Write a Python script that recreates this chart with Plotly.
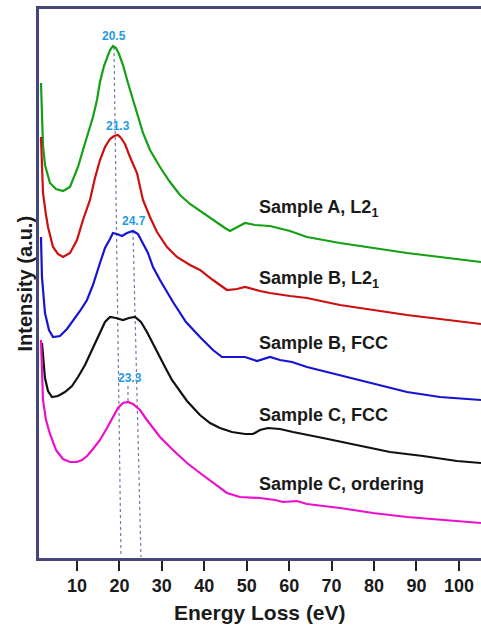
import plotly.graph_objects as go

# ---- data (energy loss in eV, intensity in a.u. with vertical offsets) ----
a_x = [1.52, 1.75, 1.99, 2.46, 3.64, 5.05, 6.70, 8.35, 9.06, 10.24, 11.41, 12.59, 13.77, 14.71, 15.42,
       16.36, 17.07, 17.78, 18.48, 19.19, 19.90, 20.84, 22.02, 23.20, 24.37, 25.55, 27.20, 29.56, 31.91,
       34.27, 36.63, 38.98, 42.52, 44.87, 46.05, 47.70, 49.59, 51.94, 55.48, 60.19, 64.19, 71.97, 79.74,
       87.76, 95.53, 105.2]
a_y = [4.74, 4.37, 4.12, 3.92, 3.74, 3.68, 3.66, 3.70, 3.77, 3.90, 4.07, 4.24, 4.40, 4.57, 4.75,
       4.91, 5.00, 5.07, 5.11, 5.09, 5.03, 4.92, 4.74, 4.57, 4.40, 4.24, 4.07, 3.90, 3.75,
       3.62, 3.53, 3.46, 3.36, 3.29, 3.26, 3.30, 3.34, 3.32, 3.31, 3.26, 3.20, 3.14, 3.09,
       3.04, 3.00, 2.95]

b1_x = [1.52, 1.75, 1.99, 2.70, 3.17, 4.35, 5.52, 6.70, 8.35, 10.00, 11.41, 13.06, 14.24, 15.42, 16.60,
        17.78, 18.72, 19.66, 20.37, 21.31, 22.49, 24.14, 25.55, 27.20, 28.85, 31.21, 33.56, 36.63, 38.98,
        42.04, 45.34, 47.70, 49.59, 53.12, 55.48, 60.19, 64.19, 71.97, 79.74, 87.76, 95.53, 105.2]
b1_y = [4.20, 3.92, 3.64, 3.42, 3.30, 3.10, 3.03, 3.00, 3.04, 3.17, 3.37, 3.57, 3.79, 3.97, 4.10,
        4.18, 4.21, 4.22, 4.19, 4.13, 4.00, 3.84, 3.57, 3.40, 3.25, 3.10, 3.00, 2.92, 2.87,
        2.77, 2.67, 2.68, 2.70, 2.66, 2.64, 2.61, 2.59, 2.52, 2.47, 2.42, 2.38, 2.33]

b2_x = [1.52, 1.75, 2.46, 3.40, 4.35, 5.99, 7.64, 9.53, 10.71, 12.36, 13.77, 15.42, 16.60, 17.78, 18.48,
        19.43, 20.60, 21.78, 23.20, 24.37, 25.55, 26.73, 27.91, 29.56, 32.62, 35.68, 38.98, 42.04, 44.17,
        47.23, 49.59, 52.41, 55.48, 57.83, 60.66, 64.19, 71.97, 79.74, 87.76, 95.53, 105.2]
b2_y = [3.20, 2.80, 2.44, 2.27, 2.20, 2.21, 2.28, 2.39, 2.46, 2.57, 2.72, 2.94, 3.09, 3.18, 3.24,
        3.23, 3.21, 3.24, 3.26, 3.23, 3.14, 3.04, 2.90, 2.77, 2.55, 2.35, 2.20, 2.07, 2.00,
        2.00, 2.00, 1.96, 2.00, 1.97, 1.95, 1.90, 1.82, 1.74, 1.65, 1.60, 1.57]

c1_x = [1.75, 1.99, 2.46, 3.17, 4.11, 5.52, 7.17, 8.82, 10.24, 11.89, 13.53, 15.42, 16.60, 17.78, 19.19,
        20.84, 22.25, 23.67, 25.08, 26.49, 27.67, 28.85, 30.74, 32.38, 34.27, 35.92, 38.98, 41.34, 43.69,
        46.52, 49.59, 51.47, 53.12, 55.00, 57.83, 60.90, 67.96, 75.97, 83.75, 91.53, 99.54, 105.2]
c1_y = [2.14, 2.02, 1.79, 1.66, 1.60, 1.61, 1.65, 1.71, 1.80, 1.92, 2.07, 2.24, 2.35, 2.40, 2.39,
        2.37, 2.39, 2.40, 2.35, 2.25, 2.15, 2.05, 1.90, 1.77, 1.66, 1.56, 1.42, 1.34, 1.29,
        1.25, 1.23, 1.23, 1.27, 1.29, 1.28, 1.25, 1.19, 1.12, 1.05, 1.01, 0.96, 0.94]

c2_x = [1.52, 1.75, 1.99, 2.70, 3.64, 5.05, 6.70, 8.35, 10.00, 11.18, 12.36, 13.77, 15.42, 17.07, 18.48,
        19.66, 20.84, 22.02, 23.20, 24.84, 26.49, 27.91, 29.56, 32.62, 35.92, 38.98, 42.04, 45.34, 48.41,
        53.12, 56.65, 58.54, 61.84, 64.19, 71.97, 79.74, 87.76, 95.53, 105.2]
c2_y = [2.17, 1.85, 1.57, 1.37, 1.23, 1.07, 0.98, 0.95, 0.95, 0.97, 1.01, 1.08, 1.17, 1.29, 1.40,
        1.49, 1.54, 1.55, 1.53, 1.47, 1.37, 1.29, 1.20, 1.07, 0.94, 0.84, 0.74, 0.64, 0.60,
        0.59, 0.57, 0.55, 0.56, 0.53, 0.49, 0.44, 0.40, 0.37, 0.34]

series_names = ["Sample A, L2<sub>1</sub>", "Sample B, L2<sub>1</sub>", "Sample B, FCC",
                "Sample C, FCC", "Sample C, ordering"]
series_colors = ["#14a014", "#cc1010", "#1414d2", "#111111", "#ec10cc"]
label_x = 52.4
label_y = [3.49, 2.78, 2.14, 1.42, 0.73]

# peak guide lines (x pairs, y pairs) and peak labels
guide_x = [[18.72, 20.37], [23.20, 25.08], [22.02, 22.02]]
guide_y = [[5.10, 0.0], [3.26, 0.0], [1.71, 1.55]]
peak_text = ["20.5", "21.3", "24.7", "23.3"]
peak_x = [18.72, 19.66, 23.43, 22.49]
peak_y = [5.21, 4.31, 3.36, 1.79]

x_ticks = [10, 20, 30, 40, 50, 60, 70, 80, 90, 100]

fig = go.Figure()

for gx, gy in zip(guide_x, guide_y):
    fig.add_trace(go.Scatter(x=gx, y=gy, mode="lines",
                             line=dict(color="#7878a8", width=1.2, dash="3px,3px"),
                             showlegend=False, hoverinfo="skip"))

for xs, ys, name, col in zip([a_x, b1_x, b2_x, c1_x, c2_x], [a_y, b1_y, b2_y, c1_y, c2_y],
                             series_names, series_colors):
    fig.add_trace(go.Scatter(x=xs, y=ys, mode="lines", name=name,
                             line=dict(color=col, width=2.2), showlegend=False))

annotations = []
for name, ly in zip(series_names, label_y):
    annotations.append(dict(x=label_x, y=ly, text=name, showarrow=False, xanchor="left",
                            yanchor="middle",
                            font=dict(family="Liberation Sans, Arial", size=18, color="#1a1a1a",
                                      weight="bold")))
for t, px_, py_ in zip(peak_text, peak_x, peak_y):
    annotations.append(dict(x=px_, y=py_, text=t, showarrow=False, xanchor="center",
                            yanchor="middle",
                            font=dict(family="Liberation Sans, Arial", size=12, color="#1e9be6",
                                      weight="bold")))
annotations.append(dict(x=0.5, y=0, xref="paper", yref="paper", yshift=-54, text="Energy Loss (eV)",
                        showarrow=False, xanchor="center", yanchor="middle",
                        font=dict(family="Liberation Sans, Arial", size=21, color="#1a1a1a",
                                  weight="bold")))
annotations.append(dict(x=0, y=0.5, xref="paper", yref="paper", xshift=-15, text="Intensity (a.u.)",
                        showarrow=False, xanchor="center", yanchor="middle", textangle=-90,
                        font=dict(family="Liberation Sans, Arial", size=20, color="#1a1a1a",
                                  weight="bold")))

fig.update_layout(
    width=481, height=628,
    margin=dict(l=39, r=0, t=9, b=70),
    plot_bgcolor="white", paper_bgcolor="white",
    annotations=annotations,
    xaxis=dict(range=[1.05, 105.2], tickvals=x_ticks, ticks="outside", ticklen=10, tickwidth=2,
               tickcolor="#222222", showline=True, linecolor="#46467a", linewidth=2.5, mirror=True,
               showgrid=False, zeroline=False,
               tickfont=dict(family="Liberation Sans, Arial", size=18, color="#1a1a1a", weight="bold")),
    yaxis=dict(range=[-0.01, 5.48], showticklabels=False, ticks="", showline=True,
               linecolor="#46467a", linewidth=2.5, showgrid=False, zeroline=False),
)

fig.write_html("out.html")
